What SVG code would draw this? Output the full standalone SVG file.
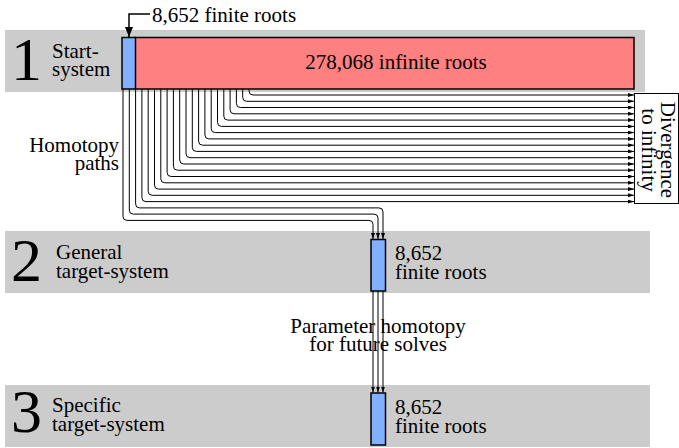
<svg xmlns="http://www.w3.org/2000/svg" width="679" height="448" viewBox="0 0 679 448">
<style>
text{font-family:'Liberation Serif','DejaVu Serif',serif;font-size:21px;fill:#000}
.num{font-size:62px}
.band{fill:#cccccc}
.blue{fill:#80b0ff;stroke:#000;stroke-width:1.5}
.red{fill:#ff8080;stroke:#000;stroke-width:1.5}
.c{fill:none;stroke:#000;stroke-width:1}
</style>
<defs>
<marker id="a" viewBox="0 0 6 4" refX="6" refY="2" markerWidth="6" markerHeight="4" orient="auto" markerUnits="userSpaceOnUse"><path d="M0,0 L6,2 L0,4 z"/></marker>
<marker id="b" viewBox="0 0 10 8" refX="10" refY="4" markerWidth="10" markerHeight="8" orient="auto" markerUnits="userSpaceOnUse"><path d="M0,0 L10,4 L0,8 z"/></marker>
</defs>
<g font-family="Liberation Serif, DejaVu Serif, serif">
<g id="band1"><rect class="band" x="5" y="30" width="640" height="62"/><text class="num" x="11" y="80">1</text><text x="52" y="58">Start-</text><text x="52" y="76">system</text></g>
<g id="band2"><rect class="band" x="5" y="231" width="645" height="62"/><text class="num" x="11" y="281">2</text><text x="56" y="259">General</text><text x="56" y="278">target-system</text></g>
<g id="band3"><rect class="band" x="5" y="385" width="645" height="62"/><text class="num" x="11" y="432">3</text><text x="52" y="412">Specific</text><text x="52" y="431">target-system</text></g>
<g id="startInfinite"><rect class="red" x="135" y="37.5" width="499" height="51.5"/><text x="396" y="69" text-anchor="middle">278,068 infinite roots</text></g>
<g id="startFinite"><rect class="blue" x="122" y="37.5" width="13.5" height="51.5"/></g>
<g id="finiteLabel"><text x="152" y="22">8,652 finite roots</text></g>
<g id="divergence"><rect x="634.5" y="93.5" width="44" height="110" fill="#fff" stroke="#000" stroke-width="1"/><text transform="translate(661,150) rotate(90)" text-anchor="middle">Divergence</text><text transform="translate(642,150) rotate(90)" text-anchor="middle">to infinity</text></g>
<g id="homotopyLabel"><text x="119" y="152" text-anchor="end">Homotopy</text><text x="119" y="170" text-anchor="end">paths</text></g>
<g id="paramLabel"><text x="378" y="333" text-anchor="middle">Parameter homotopy</text><text x="378" y="351" text-anchor="middle">for future solves</text></g>
<g id="connectors">
<path d="M150,14 H129 V37" fill="none" stroke="#000" stroke-width="1.5" marker-end="url(#b)"/>
<g class="c" marker-end="url(#a)">
<path d="M123,89 V216.4 Q123,220.4 127,220.4 H369 Q373,220.4 373,224.4 V239"/>
<path d="M129.3,89 V210.1 Q129.3,214.1 133.3,214.1 H374 Q378,214.1 378,218.1 V239"/>
<path d="M135.6,89 V203.9 Q135.6,207.9 139.6,207.9 H379 Q383,207.9 383,211.9 V239"/>
<path d="M141.9,89 V197.6 Q141.9,201.6 145.9,201.6 H634"/>
<path d="M148.2,89 V191.3 Q148.2,195.3 152.2,195.3 H634"/>
<path d="M154.5,89 V185.1 Q154.5,189.1 158.5,189.1 H634"/>
<path d="M160.8,89 V178.8 Q160.8,182.8 164.8,182.8 H634"/>
<path d="M167.1,89 V172.5 Q167.1,176.5 171.1,176.5 H634"/>
<path d="M173.4,89 V166.2 Q173.4,170.2 177.4,170.2 H634"/>
<path d="M179.7,89 V160 Q179.7,164 183.7,164 H634"/>
<path d="M186,89 V153.7 Q186,157.7 190,157.7 H634"/>
<path d="M192.3,89 V147.4 Q192.3,151.4 196.3,151.4 H634"/>
<path d="M198.6,89 V141.2 Q198.6,145.2 202.6,145.2 H634"/>
<path d="M204.9,89 V134.9 Q204.9,138.9 208.9,138.9 H634"/>
<path d="M211.2,89 V128.6 Q211.2,132.6 215.2,132.6 H634"/>
<path d="M217.5,89 V122.4 Q217.5,126.4 221.5,126.4 H634"/>
<path d="M223.8,89 V116.1 Q223.8,120.1 227.8,120.1 H634"/>
<path d="M230.1,89 V109.8 Q230.1,113.8 234.1,113.8 H634"/>
<path d="M236.4,89 V103.5 Q236.4,107.5 240.4,107.5 H634"/>
<path d="M242.7,89 V97.3 Q242.7,101.3 246.7,101.3 H634"/>
<path d="M249,89 V91 Q249,95 253,95 H634"/>
<path d="M373,291 V392.5"/>
<path d="M378,291 V392.5"/>
<path d="M383,291 V392.5"/>
</g>
</g>
<g id="target2"><rect class="blue" x="371" y="239.5" width="14.5" height="51.5"/><text x="395" y="260">8,652</text><text x="395" y="279">finite roots</text></g>
<g id="target3"><rect class="blue" x="371" y="393" width="14.5" height="52"/><text x="395" y="414">8,652</text><text x="395" y="433">finite roots</text></g>
</g>
</svg>
